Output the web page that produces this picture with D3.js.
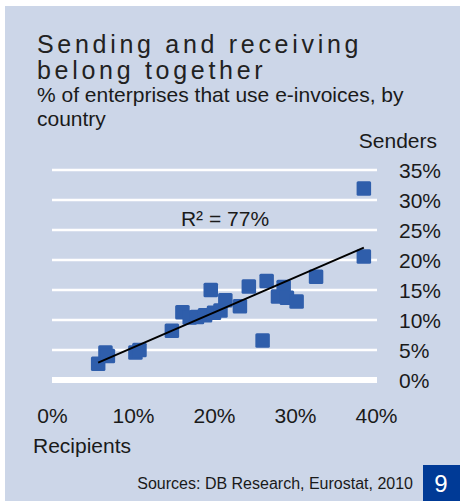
<!DOCTYPE html>
<html>
<head>
<meta charset="utf-8">
<script src="https://cdn.jsdelivr.net/npm/d3@7"></script>
<style>
  html, body { margin: 0; padding: 0; background: #ffffff; }
  svg { display: block; }
  text { font-family: "Liberation Sans", Arial, Helvetica, sans-serif; fill: #1a1a1a; }
</style>
</head>
<body>
<svg id="chart" width="460" height="501"></svg>
<script>
// Share of enterprises using e-invoices, by country (%)
const recipients = [5.7, 6.6, 6.9, 10.3, 10.8, 14.8, 16.1, 17.0, 17.9, 18.9, 19.6, 20.0, 20.8, 21.4, 23.2, 24.3, 26.0, 26.5, 27.9, 28.6, 29.0, 30.2, 32.6, 38.5, 38.5];
const senders    = [2.7, 4.6, 4.0, 4.6, 5.0, 8.2, 11.3, 10.4, 10.5, 10.8, 15.0, 11.2, 11.6, 13.3, 12.3, 15.6, 6.6, 16.5, 13.9, 15.5, 13.7, 13.1, 17.2, 20.6, 31.9];

const xTicks = [0, 10, 20, 30, 40];
const yTicks = [0, 5, 10, 15, 20, 25, 30, 35];
const fitLabel = "R² = 77%";

const titleLines = ["Sending and receiving", "belong together"];
const subtitleLines = ["% of enterprises that use e-invoices, by", "country"];
const yAxisTitle = "Senders";
const xAxisTitle = "Recipients";
const sourceNote = "Sources: DB Research, Eurostat, 2010";
const pageNumber = "9";

const svg = d3.select("#chart");

// panel background
svg.append("rect").attr("x", 5).attr("y", 6).attr("width", 455).attr("height", 495).attr("fill", "#ccd6e8");

const x = d3.scaleLinear().domain([0, 40]).range([52, 376]);
const y = d3.scaleLinear().domain([0, 35]).range([380, 170]);

// titles
svg.append("g").selectAll("text").data(titleLines).join("text")
  .attr("x", 37).attr("y", (d, i) => 53 + i * 26)
  .style("font-size", "25px").style("letter-spacing", "3.7px").style("fill", "#222")
  .text(d => d);

svg.append("g").selectAll("text").data(subtitleLines).join("text")
  .attr("x", 37).attr("y", (d, i) => 102 + i * 24)
  .style("font-size", "21px")
  .text(d => d);

svg.append("text").attr("x", 437).attr("y", 148).attr("text-anchor", "end")
  .style("font-size", "21px").text(yAxisTitle);

// horizontal gridlines
svg.append("g").selectAll("line").data(yTicks).join("line")
  .attr("x1", x(0)).attr("x2", x(40) + 1)
  .attr("y1", d => y(d)).attr("y2", d => y(d))
  .attr("stroke", "#ffffff")
  .attr("stroke-width", d => d === 0 ? 6 : 2.5);

// y axis labels on the right
const yAxis = d3.axisRight(y).tickValues(yTicks).tickSize(0).tickPadding(0).tickFormat(d => d + "%");
const gy = svg.append("g").attr("transform", "translate(399,0)").call(yAxis);
gy.select(".domain").remove();
gy.selectAll("text").attr("x", 0).attr("dy", "0.36em")
  .style("font-size", "21px").style("font-family", "'Liberation Sans', Arial, sans-serif").attr("fill", "#1a1a1a");

// x axis labels
const xAxis = d3.axisBottom(x).tickValues(xTicks).tickSize(0).tickPadding(0).tickFormat(d => d + "%");
const gx = svg.append("g").attr("transform", "translate(0,408)").call(xAxis);
gx.select(".domain").remove();
gx.selectAll("text").attr("y", 0).attr("dy", "0.72em")
  .style("font-size", "21px").style("font-family", "'Liberation Sans', Arial, sans-serif").attr("fill", "#1a1a1a");

svg.append("text").attr("x", 33).attr("y", 453).style("font-size", "21px").text(xAxisTitle);

// scatter markers
const pts = recipients.map((r, i) => ({ r, s: senders[i] }));
const size = 14.5;
svg.append("g").selectAll("rect").data(pts).join("rect")
  .attr("x", d => x(d.r) - size / 2).attr("y", d => y(d.s) - size / 2)
  .attr("width", size).attr("height", size).attr("rx", 1.5)
  .attr("fill", "#2f5eab");

// least-squares trend line through the points
const n = pts.length;
const mx = d3.mean(pts, d => d.r), my = d3.mean(pts, d => d.s);
const slope = d3.sum(pts, d => (d.r - mx) * (d.s - my)) / d3.sum(pts, d => (d.r - mx) ** 2);
const intercept = my - slope * mx;
const [xmin, xmax] = d3.extent(recipients);
svg.append("line")
  .attr("x1", x(xmin)).attr("y1", y(intercept + slope * xmin))
  .attr("x2", x(xmax)).attr("y2", y(intercept + slope * xmax))
  .attr("stroke", "#000").attr("stroke-width", 2);

svg.append("text").attr("x", 225).attr("y", 226).attr("text-anchor", "middle")
  .style("font-size", "21px").text(fitLabel);

// footer
svg.append("text").attr("x", 413).attr("y", 489).attr("text-anchor", "end")
  .style("font-size", "16px").text(sourceNote);

svg.append("rect").attr("x", 423).attr("y", 465).attr("width", 37).attr("height", 36).attr("fill", "#003a96");
svg.append("text").attr("x", 441).attr("y", 492).attr("text-anchor", "middle")
  .style("font-size", "24px").style("fill", "#ffffff").text(pageNumber);
</script>
</body>
</html>
